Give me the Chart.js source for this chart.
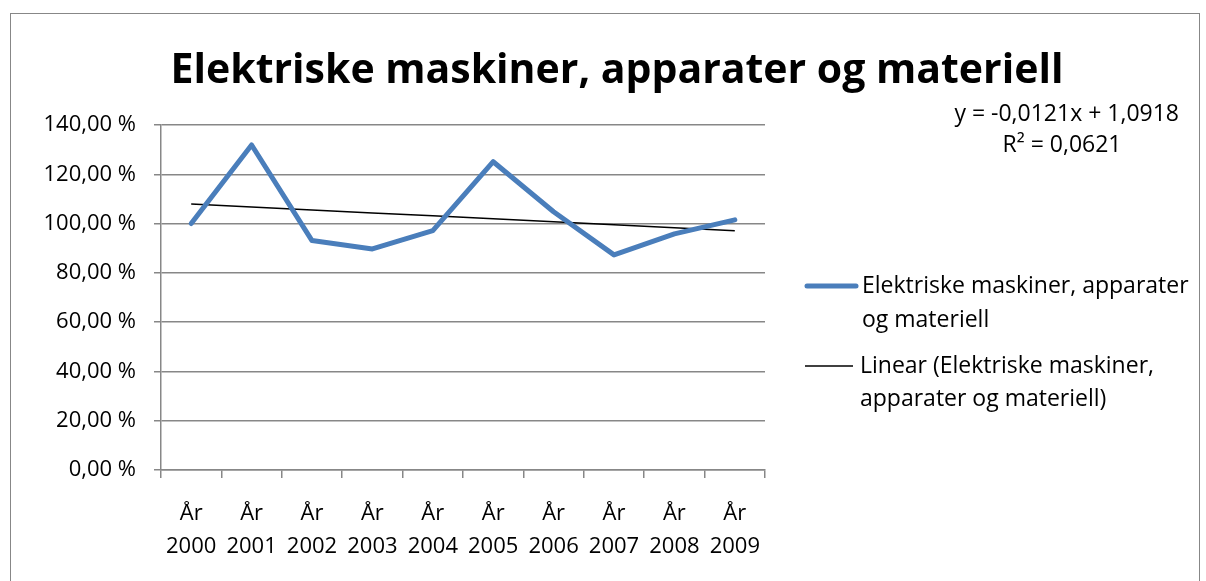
<!DOCTYPE html>
<html>
<head>
<meta charset="utf-8">
<script src="https://cdn.jsdelivr.net/npm/chart.js@4.4.1/dist/chart.umd.min.js"></script>
<style>
  body { margin: 0; background: #fff; }
  #wrap { position: relative; width: 1206px; height: 581px; overflow: hidden; }
  #frame { position: absolute; left: 10px; top: 13px; width: 1190px; height: 620px; border: 1.5px solid #878787; box-sizing: border-box; }
  #myChart { position: absolute; left: 0; top: 0; }
</style>
</head>
<body>
<div id="wrap">
  <div id="frame"></div>
  <canvas id="myChart" width="1206" height="581"></canvas>
</div>
<script>
const years = ['2000', '2001', '2002', '2003', '2004', '2005', '2006', '2007', '2008', '2009']
const values = [100.0, 131.9, 93.1, 89.7, 97.1, 125.1, 104.8, 87.3, 95.8, 101.5]
// linear trend as shown: y = -0,0121x + 1,0918 (in percent)
const trend = [107.97, 106.76, 105.55, 104.34, 103.13, 101.92, 100.71, 99.50, 98.29, 97.08]
const yTicks = [0, 20, 40, 60, 80, 100, 120, 140]

const seriesName = 'Elektriske maskiner, apparater og materiell'
const fontFam = '"Open Sans", sans-serif'

const ctx = document.getElementById('myChart')

// title, trendline equation and legend drawn by hand (Excel-like placement)
const sideText = {
  id: 'sideText',
  afterDraw(chart) {
    const c = chart.ctx
    c.save()
    c.fillStyle = '#000'
    c.textBaseline = 'middle'
    c.textAlign = 'center'
    c.font = 'bold 41px ' + fontFam
    c.fillText(seriesName, 617, 71)

    c.font = '23px ' + fontFam
    c.textAlign = 'right'
    c.fillText('y = -0,0121x + 1,0918', 1179, 114)
    c.textAlign = 'center'
    c.fillText('R² = 0,0621', 1062, 145)

    c.textAlign = 'left'
    c.lineCap = 'round'
    c.strokeStyle = '#4A7EBB'
    c.lineWidth = 5
    c.beginPath(); c.moveTo(807, 286); c.lineTo(856, 286); c.stroke()
    c.fillText('Elektriske maskiner, apparater', 862, 286)
    c.fillText('og materiell', 862, 320)

    c.lineCap = 'butt'
    c.strokeStyle = '#000'
    c.lineWidth = 1.5
    c.beginPath(); c.moveTo(805, 366); c.lineTo(853, 366); c.stroke()
    c.fillText('Linear (Elektriske maskiner,', 860, 366)
    c.fillText('apparater og materiell)', 860, 399)
    c.restore()
  }
}

const myChart = new Chart(ctx, {
  type: 'line',
  data: {
    labels: years.map(y => ['År', y]),
    datasets: [{
      label: seriesName,
      data: values,
      borderColor: '#4A7EBB',
      borderWidth: 5,
      pointRadius: 0,
      borderJoinStyle: 'round',
      borderCapStyle: 'round',
      tension: 0
    }, {
      label: 'Linear (' + seriesName + ')',
      data: trend,
      borderColor: '#000',
      borderWidth: 1.5,
      pointRadius: 0,
      tension: 0
    }]
  },
  options: {
    responsive: false,
    animation: false,
    layout: { padding: { left: 0, right: 441, top: 125, bottom: 0 } },
    plugins: {
      legend: { display: false },
      tooltip: { enabled: false },
      title: { display: false }
    },
    scales: {
      x: {
        offset: true,
        grid: { offset: true, drawOnChartArea: false, drawTicks: true, tickLength: 8, color: '#878787', lineWidth: 1.5 },
        border: { color: '#878787', width: 1.5 },
        ticks: { color: '#000', font: { family: fontFam, size: 22, lineHeight: 1.5 }, padding: 19, maxRotation: 0, autoSkip: false },
        afterFit(scale) { scale.height = 111 }
      },
      y: {
        min: 0,
        max: 140,
        afterBuildTicks(scale) { scale.ticks = yTicks.map(v => ({ value: v })) },
        grid: { color: '#878787', lineWidth: 1.5, tickLength: 7 },
        border: { color: '#878787', width: 1.5 },
        ticks: {
          color: '#000',
          font: { family: fontFam, size: 22 },
          padding: 18,
          callback: v => v.toFixed(2).replace('.', ',') + ' %'
        },
        afterFit(scale) { scale.width = 161 }
      }
    }
  },
  plugins: [sideText]
})
</script>
</body>
</html>
